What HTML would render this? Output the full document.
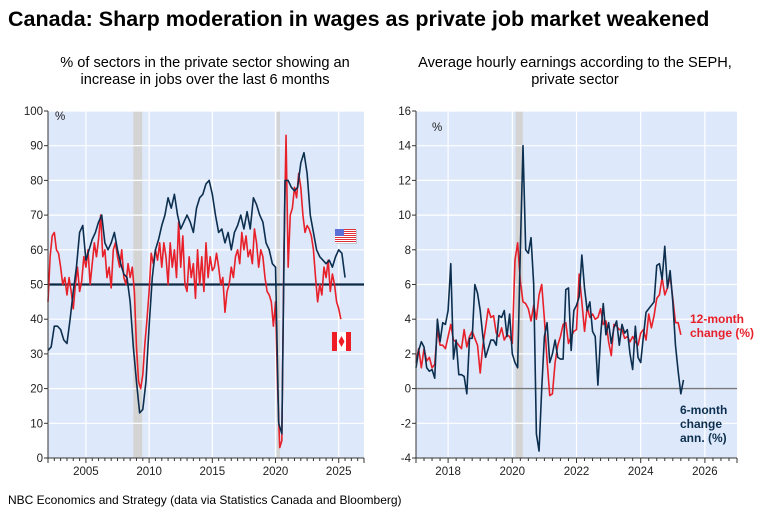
<!DOCTYPE html>
<html><head><meta charset="utf-8"><style>
body{margin:0;background:#fff;font-family:"Liberation Sans",Arial,sans-serif;}
svg text{font-family:"Liberation Sans",Arial,sans-serif;}
</style></head><body>
<svg id="s" width="757" height="517" viewBox="0 0 757 517" xmlns="http://www.w3.org/2000/svg">
<text x="8" y="26" font-size="21.5" font-weight="bold" fill="#000">Canada: Sharp moderation in wages as private job market weakened</text>
<text x="205" y="67" font-size="14.6" text-anchor="middle">% of sectors in the private sector showing an</text>
<text x="205" y="84" font-size="14.6" text-anchor="middle">increase in jobs over the last 6 months</text>
<text x="575" y="67" font-size="14.6" text-anchor="middle">Average hourly earnings according to the SEPH,</text>
<text x="575" y="84" font-size="14.6" text-anchor="middle">private sector</text>
<text x="8" y="504" font-size="12">NBC Economics and Strategy (data via Statistics Canada and Bloomberg)</text>
<g id="L"></g>
<g id="R"></g>
</svg>
<script>
// Left chart data
const leftStart = 2002.0;
const usStep = 0.25;
const caStep = 1/6;
const usValues = [31,32,38,38, 37,34,33,40, 48,55,65,67, 57,60,63,65, 68,70,62,60, 62,65,60,56, 53,52,45,32, 22,13,14,22, 38,52,60,63, 67,70,75,72, 76,70,66,68, 70,68,65,72, 75,76,79,80, 76,70,65,66, 62,65,60,65, 67,70,66,71, 66,75,73,70, 68,62,60,56, 55,10,7,80, 80,78,77,78, 85,88,82,70, 65,60,58,57, 56,57,55,58, 60,59,52];
const caValues = [45,58,64,65,60,59, 55,50,52,47,52,48, 43,50,55,48,51,58, 55,60,50,56,62,58, 63,70,58,60,52,55, 49,60,62,58,55,60, 52,50,56,52,55,48, 32,22,20,24,33,40, 48,59,56,60,57,62, 55,62,58,50,62,55, 60,52,68,55,64,50, 48,58,52,56,46,60, 50,58,48,62,52,58, 54,55,59,55,50,52, 42,48,50,55,52,58, 60,56,65,60,64,58, 60,56,66,62,55,60, 58,52,48,47,45,38, 45,20,3,5,60,93, 55,70,72,78,75,82, 78,70,65,67,66,64, 60,52,45,50,47,55, 52,57,48,53,50,45, 43,40];
const leftYTicks = [0,10,20,30,40,50,60,70,80,90,100];
const leftXTicks = [2005,2010,2015,2020,2025];
const leftRecessions = [[2008.75,2009.45],[2020.1,2020.35]];
// Right chart data (monthly from 2017.0)
const rightStart = 2017.0;
const rightStep = 1/12;
const sixMonth = [1.2,2.2,2.7,2.4,1.2,1.0,1.1,0.6,4.0,2.7,3.8,3.7, 4.5,7.2,1.7,2.8,0.8,0.8,0.7,-0.3,2.9,2.9,6.0,5.5, 4.5,3.0,1.8,2.3,2.8,2.8,2.5,4.2,4.1,4.5,3.0,4.3, 2.0,1.5,1.2,8.0,14.0,8.0,7.8,8.7,6.0,-2.6,-3.6,0.0, 3.0,3.8,1.5,2.0,2.8,1.8,1.7,1.7,5.7,5.8,2.2,4.5, 4.8,5.3,7.7,5.8,4.5,5.0,3.3,3.0,0.2,3.0,4.9,3.1, 3.8,2.6,3.5,3.9,2.5,3.7,3.2,3.4,2.0,1.1,3.6,1.8, 1.5,3.0,4.4,4.6,4.8,5.0,7.1,7.2,6.3,8.2,5.8,6.8, 5.0,2.5,1.0,-0.3,0.5];
const twelveMonth = [1.5,2.3,1.2,2.3,1.6,1.8,1.2,1.4,3.4,2.5,2.5,2.3, 3.0,3.7,2.8,2.7,2.5,2.3,3.4,2.4,3.0,3.3,2.9,2.5, 0.9,2.5,3.5,4.6,4.1,4.2,3.2,3.0,3.5,2.8,3.1,3.0, 2.6,7.4,8.4,6.2,5.0,4.9,4.6,3.9,4.8,4.0,5.4,6.0, 4.0,1.6,-0.4,-0.3,1.5,2.5,3.0,3.7,3.8,2.6,3.0,3.3, 3.4,6.6,5.0,3.3,4.7,4.1,4.3,4.0,4.1,4.6,3.7,3.9, 2.7,1.9,3.7,3.6,3.4,3.4,2.9,3.0,2.7,3.0,2.7,2.5, 3.2,3.4,2.8,4.3,3.5,4.2,5.2,5.4,6.4,5.4,5.8,6.5, 5.2,3.8,3.8,3.1];
const rightYTicks = [-4,-2,0,2,4,6,8,10,12,14,16];
const rightXTicks = [2018,2020,2022,2024,2026];
const rightRecessions = [[2020.1,2020.33]];

const NS='http://www.w3.org/2000/svg';
function mk(parent,tag,attrs){const e=document.createElementNS(NS,tag);for(const k in attrs)e.setAttribute(k,attrs[k]);parent.appendChild(e);return e;}

function chart(g,cfg){
  const {x0,x1,y0,y1,xmin,xmax,ymin,ymax}=cfg;
  const X=v=>x0+(v-xmin)/(xmax-xmin)*(x1-x0);
  const Y=v=>y1-(v-ymin)/(ymax-ymin)*(y1-y0);
  const bg=mk(g,'rect',{x:x0,y:y0,width:x1-x0,height:y1-y0,fill:'#dde8fa'});
  
  
  cfg.rec.forEach(r=>{
    const e=mk(g,'rect',{x:X(r[0]),y:y0,width:X(r[1])-X(r[0]),height:y1-y0,fill:'#d4d4d4'});
    
    
  });
  cfg.yt.forEach(v=>{
    const l=mk(g,'line',{x1:x0,x2:x1,y1:Y(v),y2:Y(v),stroke:'#fff','stroke-width':1.2});
    
    
    mk(g,'line',{x1:x0-4,x2:x0,y1:Y(v),y2:Y(v),stroke:'#333'});
    const t=mk(g,'text',{x:x0-5,y:Y(v)+4,'font-size':11.5,'text-anchor':'end',fill:'#222'});
    t.textContent=v;
    
    
  });
  cfg.xt.forEach(v=>{
    const l=mk(g,'line',{x1:X(v),x2:X(v),y1:y0,y2:y1,stroke:'#fff','stroke-width':1.2});
    
    
    const t=mk(g,'text',{x:X(v),y:y1+17,'font-size':11.5,'text-anchor':'middle',fill:'#222'});
    t.textContent=v;
    
    
  });
  for(let v=xmin;v<=xmax+1e-9;v+=cfg.minor){
    const big=cfg.xt.includes(Math.round(v*100)/100)||Math.abs(v-xmin)<1e-6||Math.abs(v-xmax)<1e-6;
    mk(g,'line',{x1:X(v),x2:X(v),y1:y1,y2:y1+(big?5:3),stroke:'#333'});
  }
  const ref=mk(g,'line',{x1:x0,x2:x1,y1:Y(cfg.ref),y2:Y(cfg.ref),stroke:cfg.refColor,'stroke-width':cfg.refW});
  
  
  cfg.series.forEach(s=>{
    const d=s.vals.map((v,i)=>(i?'L':'M')+X(s.start+i*s.step).toFixed(2)+','+Y(v).toFixed(2)).join('');
    const p=mk(g,'path',{d:d,fill:'none',stroke:s.color,'stroke-width':1.6,'stroke-linejoin':'round'});
    
    
  });
  mk(g,'line',{x1:x0,x2:x0,y1:y0,y2:y1,stroke:'#333'});
  mk(g,'line',{x1:x0,x2:x1,y1:y1,y2:y1,stroke:'#333'});
  const pct=mk(g,'text',{x:cfg.pctX,y:cfg.pctY,'font-size':11.5,fill:'#222'});
  pct.textContent='%';
  
  
  return {X,Y};
}
const L=document.getElementById('L'), R=document.getElementById('R');
chart(L,{x0:48,x1:364,y0:111,y1:458,xmin:2002,xmax:2027,ymin:0,ymax:100,yt:leftYTicks,xt:leftXTicks,rec:leftRecessions,minor:0.5,ref:50,refColor:'#0d2a45',refW:2.2,pctX:55,pctY:120,
  series:[{vals:caValues,start:leftStart,step:caStep,color:'#e8202a',name:'canada-series'},{vals:usValues,start:leftStart,step:usStep,color:'#0d2f4f',name:'us-series'}]});
chart(R,{x0:416,x1:737,y0:111,y1:458,xmin:2017,xmax:2027,ymin:-4,ymax:16,yt:rightYTicks,xt:rightXTicks,rec:rightRecessions,minor:0.25,ref:0,refColor:'#777',refW:1.4,pctX:432,pctY:131,
  series:[{vals:twelveMonth,start:rightStart,step:rightStep,color:'#e8202a',name:'twelve-month-series'},{vals:sixMonth,start:rightStart,step:rightStep,color:'#0d2f4f',name:'six-month-series'}]});
const us=mk(L,'g',{});


mk(us,'rect',{x:336,y:230,width:21,height:14,fill:'#999',opacity:0.4});
mk(us,'rect',{x:335,y:229,width:21,height:14,fill:'#fff'});
for(let i=0;i<7;i++)mk(us,'rect',{x:335,y:229+i*2,width:21,height:1,fill:'#e0303a'});
mk(us,'rect',{x:335,y:229,width:9,height:7,fill:'#5b6fd6'});
const ca=mk(L,'g',{});


mk(ca,'rect',{x:332,y:332,width:19,height:19,fill:'#fff'});
mk(ca,'rect',{x:332,y:332,width:5,height:19,fill:'#ee1c25'});
mk(ca,'rect',{x:346,y:332,width:5,height:19,fill:'#ee1c25'});
mk(ca,'path',{d:'M341.5,336 L344.5,341.5 L341.5,347 L338.5,341.5Z',fill:'#ee1c25'});
function lbl(g,x,y,txt,c,name){const t=mk(g,'text',{x:x,y:y,'font-size':12,'font-weight':'bold',fill:c});t.textContent=txt;}
lbl(R,690,323,'12-month','#e8202a','twelve-month-label');
lbl(R,690,337,'change (%)','#e8202a','twelve-month-label-line2');
lbl(R,680,414,'6-month','#0d2f4f','six-month-label');
lbl(R,680,428,'change','#0d2f4f','six-month-label-line2');
lbl(R,680,442,'ann. (%)','#0d2f4f','six-month-label-line3');
</script>
</body></html>
